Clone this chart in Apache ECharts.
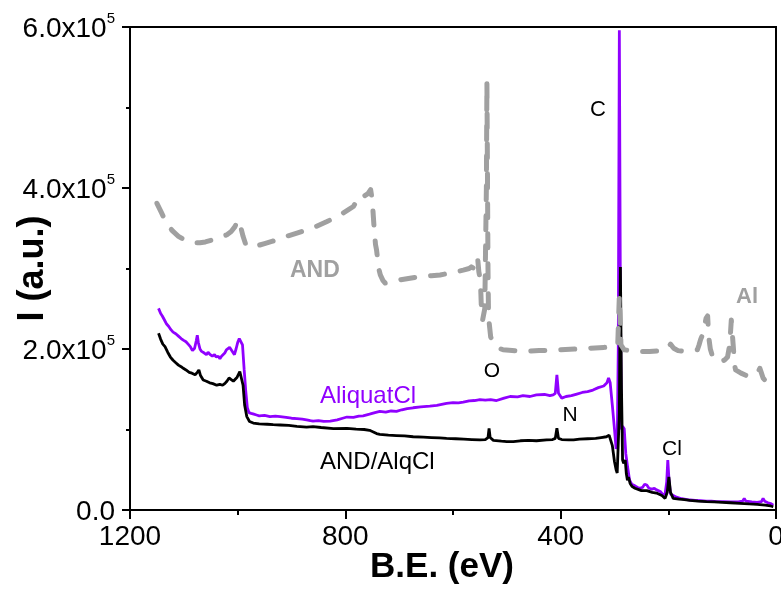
<!DOCTYPE html>
<html>
<head>
<meta charset="utf-8">
<script src="https://cdn.jsdelivr.net/npm/echarts@6/dist/echarts.min.js"></script>
<style>
html,body{margin:0;padding:0;background:#fff;}
#chart{width:781px;height:591px;}
</style>
</head>
<body>
<div id="chart"></div>
<script>
// ---- data (binding energy eV, intensity a.u.) ----
const xTicks = [1200, 800, 400, 0];
const yTicks = [0, 200000, 400000, 600000];
const yTickMantissa = ['0.0', '2.0', '4.0', '6.0'];
const yTickExponent = 5;

const aliquatCl = [[1147,250500],[1143,244000],[1140,241000],[1136,236000],[1132,231000],[1128,228000],[1124,224000],[1120,221000],[1115,219000],[1110,216000],[1105,213000],[1101,211000],[1096,209000],[1092,206000],[1088,203000],[1084,198000],[1080,201000],[1077,210000],[1075,217000],[1073,208000],[1070,200000],[1067,197000],[1062,195000],[1058,193000],[1055,196000],[1051,193000],[1047,191000],[1043,193000],[1040,190000],[1036,191000],[1033,188000],[1030,191000],[1027,193000],[1024,195000],[1021,199000],[1018,197000],[1015,202000],[1012,199000],[1009,196000],[1006,193000],[1003,200000],[1000,208000],[997,213000],[994,211000],[991,205000],[988,175000],[985,148000],[982,127000],[979,121000],[975,120000],[970,119000],[965,118000],[960,117000],[950,117500],[940,116000],[930,116500],[921,116000],[910,115000],[900,114000],[890,113500],[880,113000],[872,112000],[865,111000],[860,110500],[850,111000],[840,110000],[828,110500],[815,112000],[805,114000],[797,115500],[785,115000],[775,116500],[767,117000],[755,119000],[745,121000],[736,122500],[725,121500],[715,123000],[705,122500],[695,124500],[685,126000],[674,127000],[660,128000],[643,129000],[630,130000],[612,132500],[600,133500],[590,133000],[581,134000],[570,135500],[560,136000],[550,137000],[540,136500],[530,137000],[519,136000],[505,139000],[494,141000],[480,140500],[470,142000],[457,141000],[445,143000],[430,143500],[420,142000],[414,143000],[410,145000],[407,168000],[404,145000],[398,139000],[390,141000],[380,142000],[370,144000],[360,146000],[350,147000],[340,149000],[330,152000],[320,154000],[314,158000],[311,164000],[308,158000],[304,130000],[300,100000],[297,76000],[295,80000],[293,200000],[291,596000],[289,250000],[287,100000],[285,104000],[282,101000],[279,70000],[276,55000],[272,37000],[268,32000],[262,30000],[257,28000],[253,27000],[248,28000],[244,32000],[240,31000],[236,27000],[230,26000],[226,27000],[222,25000],[215,23000],[210,19000],[206,20000],[203,35000],[201,62000],[199,40000],[196,20000],[193,18000],[185,16000],[175,14000],[165,13000],[160,12400],[150,12000],[140,11500],[130,11000],[120,11000],[110,10500],[98,10300],[85,10000],[70,10000],[62,11000],[59,14500],[56,11000],[45,10000],[35,9500],[27,10500],[24,14500],[21,11000],[15,9000],[10,8000],[5,6000]];

const andAlqCl = [[1147,219500],[1143,212000],[1139,206000],[1135,203000],[1130,196000],[1125,190000],[1120,186000],[1115,183000],[1110,180000],[1105,178000],[1101,176000],[1096,174000],[1090,171000],[1085,170000],[1079,168000],[1075,171000],[1072,174000],[1069,167000],[1064,161500],[1058,160000],[1052,158000],[1046,157000],[1039,155000],[1033,156000],[1028,155000],[1024,157000],[1020,160000],[1016,164000],[1012,162000],[1008,160000],[1005,158000],[1001,165000],[996,172000],[993,170000],[990,155000],[987,130000],[983,116000],[978,110000],[971,108000],[960,107000],[945,106500],[934,106000],[921,105600],[905,105000],[890,104000],[872,103000],[860,103500],[845,102500],[822,101000],[797,101500],[780,100500],[765,100000],[755,99000],[748,97000],[742,95000],[736,94000],[720,93000],[705,92500],[690,92000],[674,91000],[655,90500],[640,90000],[625,89500],[612,89000],[595,88500],[580,88000],[565,87500],[550,87000],[540,87500],[535,90000],[533,101500],[531,90000],[525,86500],[510,85500],[500,85000],[488,85000],[475,86000],[460,86500],[445,86000],[426,87000],[415,87500],[410,89000],[407,101500],[404,89000],[398,87500],[385,87000],[376,87000],[365,88000],[350,88500],[335,89000],[325,90000],[315,91000],[310,93000],[307,92000],[304,80000],[300,60000],[297,50000],[295,46000],[293,47000],[291,120000],[289,302000],[287,150000],[285,62000],[283,58000],[280,62000],[278,45000],[276,37000],[274,41000],[271,33000],[267,29000],[262,27000],[259,25000],[250,24000],[240,24000],[230,22000],[222,21000],[212,18000],[206,14500],[202,22000],[199,41000],[196,22000],[191,14500],[180,13500],[170,13000],[160,12000],[145,11000],[129,10300],[115,10000],[100,9500],[85,9000],[67,8300],[50,7500],[35,7000],[20,6000],[10,5000],[5,4000]];

const andFilm = [[1150,381000],[1142,370000],[1135,360000],[1128,352000],[1120,346000],[1110,340000],[1100,336000],[1090,333000],[1080,332000],[1070,332000],[1060,333000],[1050,335000],[1040,337000],[1030,339000],[1020,342000],[1012,346000],[1005,352000],[1000,360000],[996,356000],[990,340000],[985,330000],[977,327000],[965,328000],[950,331000],[935,334000],[920,337000],[909,340000],[890,344000],[872,348000],[855,352000],[835,358000],[820,363000],[804,369000],[792,374000],[785,377000],[778,385000],[773,391000],[765,390000],[758,393000],[753,398000],[750,385000],[747,355000],[744,330000],[742,323000],[738,300000],[735,292000],[730,285000],[726,282000],[715,283000],[698,286000],[680,288000],[660,290000],[640,291000],[624,292000],[600,295000],[581,298000],[570,300000],[566,302000],[556,298000],[554,311000],[552,296000],[549,285000],[547,245000],[545,236000],[541,250000],[538,400000],[537,532000],[536,420000],[535,300000],[534,240000],[530,215000],[525,207000],[518,202000],[507,199000],[490,198000],[470,197000],[440,198000],[401,199000],[370,200000],[345,201000],[320,202000],[300,203000],[294,205000],[291,266000],[288,205000],[282,199000],[270,198000],[253,197000],[235,197000],[215,198000],[205,199000],[200,203000],[196,206000],[190,201000],[182,198000],[170,197000],[155,198000],[146,199000],[143,205000],[140,212000],[135,220000],[130,238000],[127,241000],[125,215000],[122,200000],[118,191000],[112,187000],[104,184000],[96,186000],[90,190000],[86,205000],[83,236000],[81,235000],[79,200000],[77,180000],[75,174000],[65,170000],[55,167000],[48,166000],[40,168000],[33,172000],[30,176000],[27,170000],[24,164000],[20,161000],[16,162000]];

const FONT = 'Liberation Sans, Arial, Helvetica, sans-serif';
const PURPLE = '#9000ff';
const GRAY = '#a0a0a0';

const chart = echarts.init(document.getElementById('chart'), null, {renderer: 'canvas'});

function yLabel(v) {
  const i = yTicks.indexOf(v);
  if (i < 0) return '';
  if (v === 0) return '{m|' + yTickMantissa[i] + '}';
  return '{m|' + yTickMantissa[i] + 'x10}{s|' + yTickExponent + '}';
}

const option = {
  animation: false,
  backgroundColor: '#fff',
  grid: {left: 130, right: 5, top: 27, bottom: 81, show: true, borderColor: '#000', borderWidth: 2,
    containLabel: false, outerBoundsMode: 'none'},
  xAxis: {
    type: 'value', inverse: true, min: 0, max: 1200, interval: 400,
    name: 'B.E. (eV)', nameLocation: 'middle', nameGap: 40, nameMoveOverlap: false,
    nameTextStyle: {fontFamily: FONT, fontSize: 35, fontWeight: 'bold', color: '#000', padding: [0, 22, 0, 0]},
    axisLine: {show: true, onZero: false, lineStyle: {color: '#000', width: 2}},
    axisTick: {show: true, inside: false, length: 9, lineStyle: {color: '#000', width: 2}},
    minorTick: {show: true, splitNumber: 2, length: 5, lineStyle: {color: '#000', width: 2}},
    splitLine: {show: false},
    axisLabel: {fontFamily: FONT, fontSize: 28, color: '#000', margin: 13, hideOverlap: false,
      formatter: v => xTicks.indexOf(v) >= 0 ? String(v) : ''}
  },
  yAxis: {
    type: 'value', min: 0, max: 600000, interval: 200000,
    name: 'I (a.u.)', nameLocation: 'middle', nameGap: 79, nameRotate: 90, nameMoveOverlap: false,
    nameTextStyle: {fontFamily: FONT, fontSize: 36, fontWeight: 'bold', color: '#000'},
    axisLine: {show: true, onZero: false, lineStyle: {color: '#000', width: 2}},
    axisTick: {show: true, inside: false, length: 8, lineStyle: {color: '#000', width: 2}},
    minorTick: {show: true, splitNumber: 2, length: 4, lineStyle: {color: '#000', width: 2}},
    splitLine: {show: false},
    axisLabel: {margin: 15, formatter: yLabel, hideOverlap: false,
      rich: {
        m: {fontFamily: FONT, fontSize: 28, color: '#000', lineHeight: 32, verticalAlign: 'bottom'},
        s: {fontFamily: FONT, fontSize: 15, color: '#000', lineHeight: 32, verticalAlign: 'top'}
      }}
  },
  series: [
    {name: 'AliquatCl', type: 'line', data: aliquatCl, showSymbol: false, symbol: 'none',
      lineStyle: {color: PURPLE, width: 2.8}, z: 2},
    {name: 'AND/AlqCl', type: 'line', data: andAlqCl, showSymbol: false, symbol: 'none',
      lineStyle: {color: '#000', width: 2.8}, z: 3},
    {name: 'AND', type: 'line', data: andFilm, showSymbol: false, symbol: 'none',
      lineStyle: {color: GRAY, width: 5, type: [14, 16], cap: 'round', join: 'round'}, z: 4}
  ],
  graphic: [
    {type: 'text', x: 598, y: 110, style: {text: 'C', font: '22px ' + FONT, fill: '#000', align: 'center', verticalAlign: 'middle'}},
    {type: 'text', x: 492, y: 371, style: {text: 'O', font: '21px ' + FONT, fill: '#000', align: 'center', verticalAlign: 'middle'}},
    {type: 'text', x: 570, y: 415, style: {text: 'N', font: '21px ' + FONT, fill: '#000', align: 'center', verticalAlign: 'middle'}},
    {type: 'text', x: 672, y: 449, style: {text: 'Cl', font: '21px ' + FONT, fill: '#000', align: 'center', verticalAlign: 'middle'}},
    {type: 'text', x: 320, y: 396, style: {text: 'AliquatCl', font: '24px ' + FONT, fill: PURPLE, align: 'left', verticalAlign: 'middle'}},
    {type: 'text', x: 320, y: 462, style: {text: 'AND/AlqCl', font: '24px ' + FONT, fill: '#000', align: 'left', verticalAlign: 'middle'}},
    {type: 'text', x: 290, y: 271, style: {text: 'AND', font: 'bold 23px ' + FONT, fill: GRAY, align: 'left', verticalAlign: 'middle'}},
    {type: 'text', x: 736, y: 297, style: {text: 'Al', font: 'bold 22px ' + FONT, fill: GRAY, align: 'left', verticalAlign: 'middle'}}
  ]
};
chart.setOption(option);
</script>
</body>
</html>
